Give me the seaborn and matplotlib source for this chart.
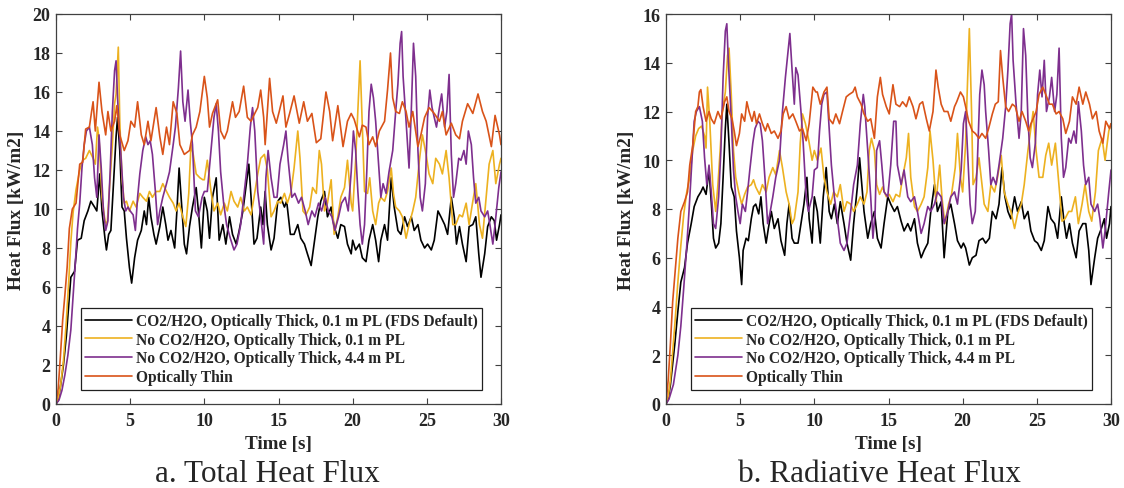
import numpy as np
import pandas as pd
import matplotlib
matplotlib.use("Agg")
import matplotlib.pyplot as plt
import seaborn as sns

# ---------------- data (time [s], heat flux [kW/m2]) ----------------
series_labels = [
    "CO2/H2O, Optically Thick, 0.1 m PL (FDS Default)",
    "No CO2/H2O, Optically Thick, 0.1 m PL",
    "No CO2/H2O, Optically Thick, 4.4 m PL",
    "Optically Thin",
]
series_colors = ["#000000", "#EDB120", "#7E2F8E", "#D95319"]

tot_default = [(0,0),(0.15,0.2),(0.3,0.9),(0.5,2.0),(0.7,3.5),(0.85,5.0),(1.0,6.5),(1.25,6.8),(1.45,8.4),(1.7,8.5),(1.9,9.4),(2.15,9.9),(2.35,10.4),(2.6,10.1),(2.75,9.9),(2.95,11.8),(3.1,9.9),(3.3,8.5),(3.4,7.9),(3.55,8.7),(3.7,8.9),(3.9,11.6),(4.05,13.7),(4.15,14.7),(4.3,13.0),(4.45,10.1),(4.6,9.9),(4.75,8.5),(4.95,7.0),(5.1,6.2),(5.3,7.5),(5.5,8.4),(5.75,8.9),(5.95,9.9),(6.1,9.2),(6.25,10.6),(6.4,9.6),(6.6,8.7),(6.75,8.2),(7.0,9.1),(7.2,10.1),(7.4,9.2),(7.55,8.4),(7.75,8.9),(8.0,8.0),(8.15,9.9),(8.3,12.1),(8.5,9.9),(8.65,8.2),(8.8,7.7),(9.0,9.1),(9.2,10.1),(9.45,11.1),(9.6,9.9),(9.8,8.0),(10.0,10.6),(10.2,9.9),(10.35,8.5),(10.55,10.6),(10.8,11.6),(11.0,8.4),(11.25,9.2),(11.45,8.2),(11.7,9.6),(11.9,8.7),(12.15,8.2),(12.35,8.9),(12.6,9.9),(12.8,11.1),(13.0,12.3),(13.15,10.6),(13.35,8.2),(13.55,8.5),(13.8,10.1),(13.95,9.2),(14.1,10.9),(14.25,9.2),(14.5,7.9),(14.7,8.5),(14.95,10.4),(15.15,10.6),(15.4,10.1),(15.55,10.4),(15.8,8.7),(16.05,8.7),(16.3,9.2),(16.5,8.5),(16.75,8.2),(16.95,7.7),(17.2,7.1),(17.4,8.2),(17.65,9.6),(17.85,10.4),(18.1,10.9),(18.3,9.6),(18.55,10.1),(18.75,9.1),(19.0,8.5),(19.2,9.2),(19.45,9.1),(19.65,8.2),(19.9,7.7),(20.0,8.4),(20.2,7.9),(20.45,8.2),(20.65,7.5),(20.9,7.3),(21.1,8.4),(21.35,9.2),(21.55,8.4),(21.75,7.3),(21.9,8.4),(22.15,9.2),(22.35,8.4),(22.6,11.6),(22.8,10.1),(23.05,8.9),(23.25,8.7),(23.5,9.6),(23.7,9.1),(23.95,9.6),(24.15,8.9),(24.4,9.2),(24.6,8.4),(24.85,8.0),(25.05,8.2),(25.3,7.9),(25.5,8.4),(25.75,9.9),(25.95,9.6),(26.2,9.2),(26.4,8.7),(26.65,10.6),(26.85,9.6),(27.0,8.2),(27.2,9.1),(27.4,8.2),(27.65,7.3),(27.85,9.1),(28.1,9.2),(28.3,9.6),(28.5,7.7),(28.65,6.5),(28.9,7.7),(29.1,9.1),(29.35,9.6),(29.55,9.4),(29.7,8.4),(29.9,9.2),(30.0,9.7)]

tot_thick01 = [(0,0),(0.15,0.3),(0.3,0.9),(0.5,2.2),(0.7,4.3),(0.85,6.2),(1.0,8.3),(1.15,9.8),(1.35,11.0),(1.6,12.0),(1.8,12.5),(2.0,12.6),(2.25,13.0),(2.5,12.6),(2.65,12.3),(2.8,14.2),(2.9,13.6),(3.1,10.6),(3.3,9.4),(3.45,9.2),(3.6,11.0),(3.8,13.3),(3.95,15.4),(4.05,15.9),(4.2,18.3),(4.3,14.5),(4.45,11.6),(4.6,10.3),(4.75,10.4),(4.95,9.9),(5.2,10.4),(5.4,10.1),(5.65,10.8),(5.85,10.6),(6.1,10.4),(6.3,10.9),(6.5,10.6),(6.75,10.9),(7.0,10.9),(7.2,11.3),(7.45,10.9),(7.65,10.6),(7.9,10.3),(8.1,9.9),(8.3,10.3),(8.55,9.6),(8.75,9.1),(8.95,10.8),(9.1,13.3),(9.25,12.8),(9.45,11.8),(9.7,11.6),(9.9,11.5),(10.0,11.5),(10.2,12.5),(10.45,10.9),(10.65,9.9),(10.9,10.3),(11.1,9.7),(11.35,10.3),(11.55,9.9),(11.8,10.9),(12.0,10.4),(12.25,10.1),(12.45,10.6),(12.7,9.9),(12.9,10.1),(13.15,9.7),(13.35,10.6),(13.6,11.8),(13.8,12.6),(14.05,12.8),(14.25,12.0),(14.5,9.6),(14.7,9.9),(14.95,10.4),(15.15,10.3),(15.4,10.8),(15.6,10.3),(15.85,10.9),(16.05,12.1),(16.3,14.0),(16.45,12.6),(16.65,9.9),(16.85,9.7),(17.1,10.1),(17.3,11.1),(17.55,10.8),(17.75,13.0),(17.9,12.3),(18.1,9.9),(18.3,10.3),(18.55,11.5),(18.75,8.7),(19.0,9.6),(19.2,10.6),(19.45,11.1),(19.65,12.5),(19.9,10.3),(20.0,9.9),(20.2,12.5),(20.35,15.0),(20.5,17.6),(20.65,14.2),(20.8,10.9),(21.0,10.8),(21.15,11.6),(21.35,9.9),(21.55,9.2),(21.75,10.3),(21.9,10.6),(22.15,10.4),(22.35,10.9),(22.6,12.1),(22.75,10.8),(22.9,10.1),(23.15,9.9),(23.35,9.6),(23.6,8.5),(23.8,9.2),(24.05,9.9),(24.25,10.6),(24.5,12.5),(24.7,13.8),(24.95,12.8),(25.15,11.8),(25.4,11.3),(25.6,12.6),(25.85,12.3),(26.05,11.8),(26.3,13.0),(26.5,11.6),(26.75,9.2),(26.95,9.2),(27.2,9.7),(27.4,9.6),(27.65,10.3),(27.85,9.2),(28.1,10.4),(28.3,11.3),(28.55,9.2),(28.75,8.5),(29.0,10.6),(29.2,12.3),(29.45,13.0),(29.65,11.3),(29.9,12.3),(30.0,12.6)]

tot_thick44 = [(0,0),(0.2,0.2),(0.4,0.7),(0.6,1.5),(0.8,2.5),(1.0,3.8),(1.15,5.5),(1.3,7.2),(1.45,9.0),(1.6,10.3),(1.75,12.1),(1.9,13.3),(2.05,14.0),(2.25,14.2),(2.45,13.3),(2.6,11.6),(2.75,10.6),(2.9,13.8),(3.05,12.1),(3.2,9.9),(3.35,8.9),(3.5,9.4),(3.65,11.9),(3.8,15.0),(3.95,17.1),(4.05,17.6),(4.15,15.7),(4.25,14.2),(4.4,12.5),(4.55,10.6),(4.7,9.9),(4.85,10.1),(5.0,9.9),(5.2,9.7),(5.35,8.9),(5.5,10.6),(5.65,11.8),(5.85,13.0),(6.05,13.7),(6.2,13.3),(6.35,13.5),(6.5,12.8),(6.7,10.9),(6.85,9.2),(7.0,9.9),(7.2,10.6),(7.45,11.3),(7.65,11.9),(7.9,13.3),(8.05,14.2),(8.25,16.2),(8.4,18.1),(8.55,15.5),(8.7,14.5),(8.9,16.1),(9.05,14.5),(9.2,13.3),(9.4,9.9),(9.6,9.6),(9.85,10.6),(10.0,10.9),(10.2,10.9),(10.45,13.0),(10.65,14.7),(10.8,15.4),(10.95,14.0),(11.1,11.9),(11.3,10.3),(11.5,9.2),(11.75,8.5),(12.0,7.9),(12.2,8.2),(12.45,9.2),(12.65,10.6),(12.9,12.3),(13.1,14.2),(13.25,15.2),(13.4,14.0),(13.6,10.9),(13.8,9.6),(14.0,8.2),(14.15,11.6),(14.3,13.0),(14.5,11.6),(14.7,10.6),(14.9,10.6),(15.1,12.3),(15.35,13.3),(15.5,14.0),(15.65,12.5),(15.9,10.6),(16.1,10.8),(16.35,10.3),(16.55,10.6),(16.8,9.9),(17.0,9.2),(17.25,9.9),(17.45,9.6),(17.7,10.3),(17.9,9.9),(18.15,10.6),(18.35,9.9),(18.6,9.6),(18.8,8.9),(19.05,9.6),(19.25,10.3),(19.5,10.6),(19.7,9.9),(19.9,11.9),(20.05,14.0),(20.2,13.0),(20.35,10.9),(20.5,9.2),(20.65,8.2),(20.8,9.2),(20.95,11.9),(21.1,15.0),(21.25,16.4),(21.4,15.7),(21.55,14.5),(21.75,12.3),(21.9,10.6),(22.05,11.3),(22.25,10.8),(22.45,11.9),(22.7,13.0),(22.9,15.0),(23.05,16.4),(23.2,18.5),(23.3,19.1),(23.4,16.8),(23.6,14.5),(23.8,12.1),(23.95,15.0),(24.1,18.5),(24.25,16.8),(24.4,13.0),(24.55,10.6),(24.7,9.9),(24.9,11.3),(25.05,14.7),(25.2,16.1),(25.35,15.2),(25.5,14.7),(25.65,14.2),(25.85,15.2),(26.0,15.9),(26.2,14.2),(26.35,15.0),(26.5,16.9),(26.65,12.8),(26.8,10.6),(26.95,11.3),(27.15,12.6),(27.3,12.5),(27.5,13.0),(27.65,12.3),(27.8,14.0),(28.0,13.3),(28.15,11.6),(28.3,10.3),(28.5,10.6),(28.65,9.9),(28.9,9.6),(29.1,9.9),(29.25,9.2),(29.45,8.2),(29.6,9.2),(29.85,11.1),(30.0,11.9)]

tot_thin = [(0,0),(0.15,0.8),(0.3,2.5),(0.45,4.3),(0.6,5.6),(0.75,7.0),(0.9,9.0),(1.1,10.0),(1.35,10.3),(1.6,12.3),(1.8,12.4),(2.0,14.1),(2.25,14.2),(2.4,15.0),(2.5,15.5),(2.65,14.0),(2.9,16.5),(3.1,15.0),(3.35,13.8),(3.5,15.0),(3.7,14.0),(3.95,14.5),(4.1,15.3),(4.3,13.8),(4.6,13.0),(4.85,13.5),(5.05,14.5),(5.3,14.2),(5.5,15.5),(5.75,13.8),(5.95,13.3),(6.2,14.5),(6.4,13.5),(6.75,15.2),(7.0,13.7),(7.2,12.8),(7.45,14.2),(7.65,13.3),(7.9,15.5),(8.15,14.9),(8.35,13.3),(8.65,12.8),(9.0,13.0),(9.2,13.8),(9.45,14.2),(9.7,15.0),(10.0,16.8),(10.2,15.7),(10.35,14.2),(10.55,14.9),(10.9,15.6),(11.1,14.0),(11.35,13.6),(11.55,14.0),(11.9,15.5),(12.1,14.7),(12.35,15.0),(12.65,16.3),(12.9,14.7),(13.15,14.5),(13.4,14.9),(13.6,15.2),(13.8,16.1),(14.0,14.7),(14.1,13.3),(14.4,16.7),(14.6,15.0),(14.85,14.4),(15.05,15.0),(15.3,15.8),(15.5,14.2),(15.75,14.9),(16.05,15.8),(16.4,14.4),(16.7,15.5),(16.95,14.5),(17.25,14.9),(17.55,13.4),(17.85,13.6),(18.2,16.0),(18.45,15.0),(18.65,13.5),(19.0,15.3),(19.35,13.2),(19.65,14.5),(19.9,14.9),(20.1,14.6),(20.45,13.7),(20.65,14.3),(20.9,14.2),(21.1,13.3),(21.35,13.7),(21.55,13.2),(21.8,14.0),(22.15,14.5),(22.35,16.1),(22.55,18.0),(22.7,15.7),(22.9,15.0),(23.15,14.9),(23.35,15.5),(23.6,15.0),(23.8,14.2),(24.05,15.0),(24.4,13.2),(24.6,13.8),(24.85,14.7),(25.15,15.2),(25.5,14.9),(25.85,14.5),(26.05,15.0),(26.3,13.8),(26.65,14.4),(26.95,13.8),(27.2,13.6),(27.4,14.5),(27.75,15.4),(28.1,14.9),(28.45,15.9),(28.75,15.0),(29.0,14.5),(29.35,13.2),(29.6,14.8),(29.9,13.8),(30.0,13.3)]

rad_default = [(0,0),(0.15,0.2),(0.3,0.8),(0.6,2.5),(0.8,3.8),(1.0,5.0),(1.25,5.6),(1.45,6.6),(1.7,7.4),(1.9,8.1),(2.15,8.5),(2.35,8.7),(2.5,8.9),(2.7,8.6),(2.9,9.6),(3.05,8.3),(3.2,6.8),(3.35,6.4),(3.55,6.6),(3.7,7.4),(3.85,9.3),(4.0,11.3),(4.1,12.3),(4.25,10.7),(4.4,8.9),(4.6,8.5),(4.75,7.1),(4.95,6.0),(5.1,4.9),(5.2,6.3),(5.4,6.8),(5.55,6.7),(5.75,7.6),(5.9,8.1),(6.05,8.2),(6.25,7.8),(6.4,8.5),(6.55,7.4),(6.75,6.6),(6.9,7.2),(7.1,7.9),(7.3,7.2),(7.55,7.6),(7.75,6.7),(8.0,6.1),(8.15,7.4),(8.3,8.2),(8.5,6.8),(8.65,6.6),(8.9,6.6),(9.1,7.4),(9.3,8.2),(9.5,9.3),(9.65,7.6),(9.85,6.6),(10.0,8.5),(10.2,7.9),(10.4,6.6),(10.6,8.5),(10.8,9.7),(11.0,7.9),(11.15,7.6),(11.35,8.2),(11.55,7.4),(11.75,8.3),(12.0,7.4),(12.2,6.6),(12.45,5.9),(12.65,7.4),(12.9,8.9),(13.05,10.1),(13.2,9.0),(13.35,7.9),(13.6,6.8),(13.8,7.4),(14.05,7.9),(14.25,6.8),(14.5,6.4),(14.7,7.4),(14.95,8.5),(15.15,8.2),(15.4,7.9),(15.6,8.1),(15.85,7.5),(16.05,7.1),(16.3,7.4),(16.5,7.1),(16.75,7.6),(16.95,6.6),(17.2,6.0),(17.4,6.3),(17.65,6.6),(17.85,7.9),(18.1,9.0),(18.3,7.9),(18.55,8.3),(18.75,6.0),(19.0,7.9),(19.2,8.2),(19.45,7.4),(19.65,6.7),(19.9,6.4),(20.05,6.6),(20.2,6.4),(20.45,5.7),(20.65,6.0),(20.9,6.1),(21.1,6.7),(21.35,6.8),(21.55,6.6),(21.8,6.8),(22.0,7.9),(22.25,7.6),(22.45,8.2),(22.65,9.7),(22.85,8.5),(23.05,7.9),(23.25,7.6),(23.5,8.5),(23.7,7.9),(23.95,8.3),(24.15,7.6),(24.4,7.9),(24.6,7.1),(24.85,6.7),(25.05,6.6),(25.3,6.3),(25.5,6.7),(25.75,8.1),(25.95,7.6),(26.2,7.4),(26.4,6.8),(26.65,8.5),(26.85,7.4),(27.0,6.8),(27.2,7.4),(27.4,6.6),(27.65,6.0),(27.85,7.1),(28.1,7.4),(28.3,7.4),(28.5,6.3),(28.65,4.9),(28.9,6.0),(29.1,6.8),(29.35,7.2),(29.55,7.6),(29.7,6.8),(29.9,7.4),(30.0,8.1)]

rad_thick01 = [(0,0),(0.15,0.3),(0.3,1.0),(0.6,3.3),(0.8,5.0),(1.0,6.5),(1.2,7.8),(1.4,8.7),(1.6,9.3),(1.8,10.4),(2.0,11.0),(2.2,11.3),(2.4,11.4),(2.6,11.0),(2.7,10.5),(2.8,13.0),(2.95,11.6),(3.15,9.0),(3.35,7.9),(3.5,9.0),(3.65,10.4),(3.8,12.0),(4.0,12.8),(4.15,14.3),(4.25,14.6),(4.4,12.7),(4.55,10.4),(4.7,9.3),(4.9,8.7),(5.1,8.2),(5.3,8.6),(5.5,8.9),(5.75,9.0),(5.9,9.2),(6.05,8.9),(6.3,8.6),(6.5,9.0),(6.75,8.7),(6.95,9.3),(7.2,9.7),(7.4,9.4),(7.65,10.4),(7.85,9.7),(8.1,8.7),(8.3,8.2),(8.5,7.4),(8.65,7.6),(8.9,8.7),(9.05,10.7),(9.2,11.9),(9.4,11.5),(9.6,10.9),(9.85,10.0),(10.0,10.4),(10.2,10.0),(10.45,10.5),(10.65,9.3),(10.85,8.7),(11.1,8.2),(11.3,8.7),(11.55,8.5),(11.75,9.0),(12.0,7.9),(12.2,8.3),(12.45,8.2),(12.65,7.9),(12.9,8.2),(13.1,8.5),(13.35,8.2),(13.55,8.7),(13.7,10.4),(13.85,10.9),(14.05,10.4),(14.2,9.0),(14.4,8.6),(14.6,8.9),(14.85,8.5),(15.05,8.6),(15.3,8.3),(15.5,8.6),(15.75,8.5),(15.95,9.3),(16.2,10.1),(16.35,11.1),(16.5,9.3),(16.75,8.1),(16.95,7.9),(17.2,8.2),(17.4,8.5),(17.65,9.7),(17.8,11.2),(18.0,10.0),(18.2,8.3),(18.45,9.8),(18.6,8.5),(18.8,7.4),(19.05,8.2),(19.25,8.6),(19.5,9.7),(19.65,11.1),(19.85,9.3),(20.0,8.7),(20.2,10.7),(20.3,12.7),(20.45,15.4),(20.6,12.0),(20.7,9.0),(20.9,9.3),(21.1,10.1),(21.25,9.3),(21.45,8.2),(21.7,7.9),(21.9,9.0),(22.15,8.7),(22.35,9.3),(22.6,10.2),(22.8,8.7),(23.05,8.2),(23.25,7.9),(23.5,7.2),(23.7,7.8),(23.95,8.2),(24.15,9.0),(24.4,10.4),(24.6,11.3),(24.75,12.0),(24.95,10.4),(25.15,9.3),(25.4,9.3),(25.6,10.2),(25.8,10.7),(26.0,9.8),(26.25,10.7),(26.45,9.3),(26.7,7.5),(26.9,7.6),(27.15,7.9),(27.35,7.9),(27.6,8.5),(27.8,7.4),(28.05,8.2),(28.25,9.0),(28.5,7.9),(28.7,7.5),(28.95,8.7),(29.15,10.4),(29.4,10.9),(29.6,10.0),(29.85,11.2),(30.0,11.5)]

rad_thick44 = [(0,0),(0.2,0.2),(0.5,0.8),(0.8,2.0),(1.0,3.2),(1.2,4.8),(1.4,6.5),(1.55,7.9),(1.75,10.0),(1.9,11.6),(2.05,12.0),(2.25,12.2),(2.45,11.6),(2.6,10.1),(2.75,9.0),(2.9,9.8),(3.05,8.7),(3.2,7.4),(3.35,7.2),(3.55,8.5),(3.7,10.4),(3.85,13.4),(4.0,15.3),(4.1,15.6),(4.2,14.1),(4.4,11.7),(4.55,9.6),(4.7,8.5),(4.85,7.9),(5.0,7.4),(5.15,8.2),(5.35,7.9),(5.5,8.7),(5.65,9.6),(5.85,10.7),(6.0,11.3),(6.2,11.6),(6.35,11.5),(6.5,10.8),(6.7,9.0),(6.85,7.4),(7.0,7.8),(7.2,8.5),(7.4,9.3),(7.65,10.0),(7.85,12.0),(8.05,13.4),(8.2,14.3),(8.35,15.2),(8.5,13.7),(8.65,12.3),(8.75,13.8),(8.9,13.5),(9.1,12.0),(9.25,10.7),(9.45,8.5),(9.6,7.9),(9.85,8.5),(10.0,9.6),(10.2,9.7),(10.35,11.2),(10.5,12.3),(10.65,12.7),(10.85,12.8),(11.0,11.3),(11.15,9.8),(11.35,8.5),(11.55,7.6),(11.75,6.6),(12.0,6.3),(12.2,6.6),(12.45,7.9),(12.65,9.0),(12.9,9.8),(13.1,11.5),(13.3,12.7),(13.4,12.2),(13.6,10.4),(13.8,8.5),(13.95,6.8),(14.1,7.9),(14.2,10.4),(14.4,10.8),(14.55,9.8),(14.7,8.7),(14.95,8.5),(15.15,9.8),(15.35,11.6),(15.5,11.6),(15.6,9.8),(15.85,9.0),(16.05,9.6),(16.3,8.5),(16.5,8.3),(16.75,8.5),(16.95,7.9),(17.2,7.0),(17.4,7.4),(17.65,8.1),(17.85,7.9),(18.1,8.2),(18.3,8.7),(18.55,8.5),(18.75,7.4),(19.0,7.9),(19.2,8.5),(19.45,8.7),(19.65,8.2),(19.9,9.6),(20.05,11.5),(20.2,12.0),(20.35,10.1),(20.5,8.2),(20.65,7.4),(20.85,7.9),(21.0,10.1),(21.15,12.7),(21.3,13.7),(21.45,13.1),(21.55,12.0),(21.75,10.4),(21.9,9.0),(22.05,9.3),(22.25,9.0),(22.45,9.8),(22.7,10.9),(22.9,12.2),(23.05,13.7),(23.2,15.6),(23.3,16.0),(23.4,14.1),(23.6,12.3),(23.8,10.9),(23.95,12.0),(24.1,15.4),(24.25,14.3),(24.4,11.7),(24.55,10.1),(24.7,9.7),(24.9,10.7),(25.05,12.7),(25.2,13.7),(25.35,12.6),(25.5,14.1),(25.65,12.0),(25.85,12.6),(26.0,13.4),(26.2,12.0),(26.35,12.7),(26.5,14.6),(26.65,10.9),(26.8,9.3),(26.95,9.7),(27.15,10.9),(27.3,10.7),(27.5,11.2),(27.65,10.7),(27.8,12.4),(28.0,11.2),(28.15,9.8),(28.3,9.0),(28.5,9.3),(28.65,8.2),(28.9,7.9),(29.1,8.2),(29.25,7.6),(29.45,6.4),(29.6,7.1),(29.85,8.7),(30.0,9.6)]

rad_thin = [(0,0),(0.15,1.0),(0.3,2.5),(0.45,4.2),(0.6,5.3),(0.8,6.8),(1.0,7.9),(1.25,8.3),(1.45,8.7),(1.6,9.8),(1.8,10.6),(2.0,12.0),(2.15,12.2),(2.25,12.8),(2.35,12.9),(2.5,12.2),(2.7,11.6),(2.9,12.0),(3.05,11.7),(3.25,11.5),(3.5,12.0),(3.7,11.7),(3.95,12.4),(4.1,12.6),(4.25,12.0),(4.45,11.7),(4.6,11.2),(4.75,10.6),(4.95,11.1),(5.1,11.9),(5.3,11.6),(5.45,12.4),(5.6,12.0),(5.8,11.6),(5.95,12.0),(6.1,11.5),(6.3,11.9),(6.5,11.5),(6.7,11.2),(6.85,11.5),(7.1,11.1),(7.3,11.2),(7.55,10.9),(7.75,11.2),(7.9,11.9),(8.1,12.2),(8.3,11.7),(8.55,11.9),(8.75,11.6),(9.0,11.2),(9.2,11.3),(9.45,10.8),(9.65,11.5),(9.9,13.0),(10.1,12.8),(10.2,12.8),(10.4,12.3),(10.65,12.8),(10.85,13.0),(11.0,11.7),(11.25,11.5),(11.45,11.9),(11.7,11.5),(11.9,12.0),(12.15,12.6),(12.35,12.7),(12.6,12.8),(12.75,13.0),(12.9,12.6),(13.15,12.3),(13.35,11.9),(13.6,11.6),(13.8,11.7),(14.05,10.9),(14.25,12.6),(14.45,13.4),(14.6,12.7),(14.85,12.2),(15.05,11.9),(15.3,13.1),(15.5,12.3),(15.75,12.2),(15.95,12.4),(16.2,12.2),(16.4,12.6),(16.65,12.2),(16.85,11.7),(17.1,12.3),(17.3,12.4),(17.55,11.7),(17.75,11.2),(18.0,12.0),(18.2,13.7),(18.35,13.0),(18.55,12.3),(18.75,12.0),(19.0,12.0),(19.2,11.6),(19.45,12.2),(19.6,12.4),(19.85,12.8),(20.05,12.6),(20.2,12.2),(20.4,11.6),(20.65,11.2),(20.85,11.1),(21.1,10.9),(21.3,11.1),(21.55,10.9),(21.75,11.3),(22.0,11.9),(22.2,12.3),(22.4,12.4),(22.55,14.5),(22.7,13.4),(22.9,12.2),(23.1,12.0),(23.35,12.3),(23.55,12.2),(23.8,11.6),(24.0,12.0),(24.25,11.6),(24.45,11.2),(24.6,11.5),(24.75,11.7),(24.95,12.0),(25.15,12.7),(25.4,13.0),(25.6,12.7),(25.85,12.3),(26.05,12.3),(26.3,11.9),(26.5,12.0),(26.75,11.7),(26.95,11.1),(27.2,11.6),(27.4,12.6),(27.65,12.3),(27.85,13.0),(28.1,12.3),(28.3,12.8),(28.55,12.3),(28.75,11.7),(29.0,12.0),(29.2,11.2),(29.45,10.7),(29.65,11.6),(29.9,11.3),(30.0,11.5)]

x_ticks = [0, 5, 10, 15, 20, 25, 30]
y_ticks_total = [0, 2, 4, 6, 8, 10, 12, 14, 16, 18, 20]
y_ticks_rad = [0, 2, 4, 6, 8, 10, 12, 14, 16]
x_label = "Time [s]"
y_label = "Heat Flux [kW/m2]"
captions = ["a. Total Heat Flux", "b. Radiative Heat Flux"]

# ---------------- style ----------------
sns.set_style("ticks")
plt.rcParams["font.family"] = ["Liberation Serif", "DejaVu Serif"]
plt.rcParams["font.weight"] = "bold"
plt.rcParams["axes.labelweight"] = "bold"

W, H = 1124, 489
fig = plt.figure(figsize=(W / 100, H / 100), dpi=100)
ax1 = fig.add_axes([56 / W, 84 / H, 445 / W, 390 / H])
ax2 = fig.add_axes([666 / W, 84 / H, 445 / W, 390 / H])

panels = [
    (ax1, [tot_default, tot_thick01, tot_thick44, tot_thin], y_ticks_total),
    (ax2, [rad_default, rad_thick01, rad_thick44, rad_thin], y_ticks_rad),
]

for ax, series, yt in panels:
    for pts, lab, col in zip(series, series_labels, series_colors):
        df = pd.DataFrame(pts, columns=["t", "q"])
        sns.lineplot(data=df, x="t", y="q", ax=ax, color=col, lw=1.2,
                     label=lab, estimator=None, sort=False)
    ax.set_xlim(x_ticks[0], x_ticks[-1])
    ax.set_ylim(yt[0], yt[-1])
    ax.set_xticks(x_ticks)
    ax.set_yticks(yt)
    ax.tick_params(direction="in", top=True, right=True, length=4, width=0.8,
                   color="#404040", labelsize=13)
    ax.tick_params(axis="x", pad=6)
    ax.tick_params(axis="y", pad=4)
    for s in ax.spines.values():
        s.set_visible(True)
        s.set_color("#404040")
        s.set_linewidth(0.9)
    ax.set_xlabel(x_label, fontsize=13.8, fontweight="bold")
    ax.set_ylabel(y_label, fontsize=13.8, fontweight="bold")
    ax.xaxis.set_label_coords(0.5, -0.08)
    ax.yaxis.set_label_coords(-0.0697, 0.5)
    leg = ax.legend(loc="lower left", bbox_to_anchor=((80.7 - 56) / 445, (405 - 390.7) / 390),
                    borderaxespad=0, labelspacing=0.17, handlelength=3.0,
                    handletextpad=0.25, borderpad=0.3, fancybox=False, framealpha=1,
                    edgecolor="#202020", prop={"weight": "bold", "size": 11.2})
    leg.get_frame().set_linewidth(0.9)

fig.text(267 / W, (H - 482) / H, captions[0], ha="center", va="baseline",
         fontsize=22.5, fontweight="normal")
fig.text(879 / W, (H - 482) / H, captions[1], ha="center", va="baseline",
         fontsize=22.5, fontweight="normal")

fig.savefig("out.png", dpi=100)
